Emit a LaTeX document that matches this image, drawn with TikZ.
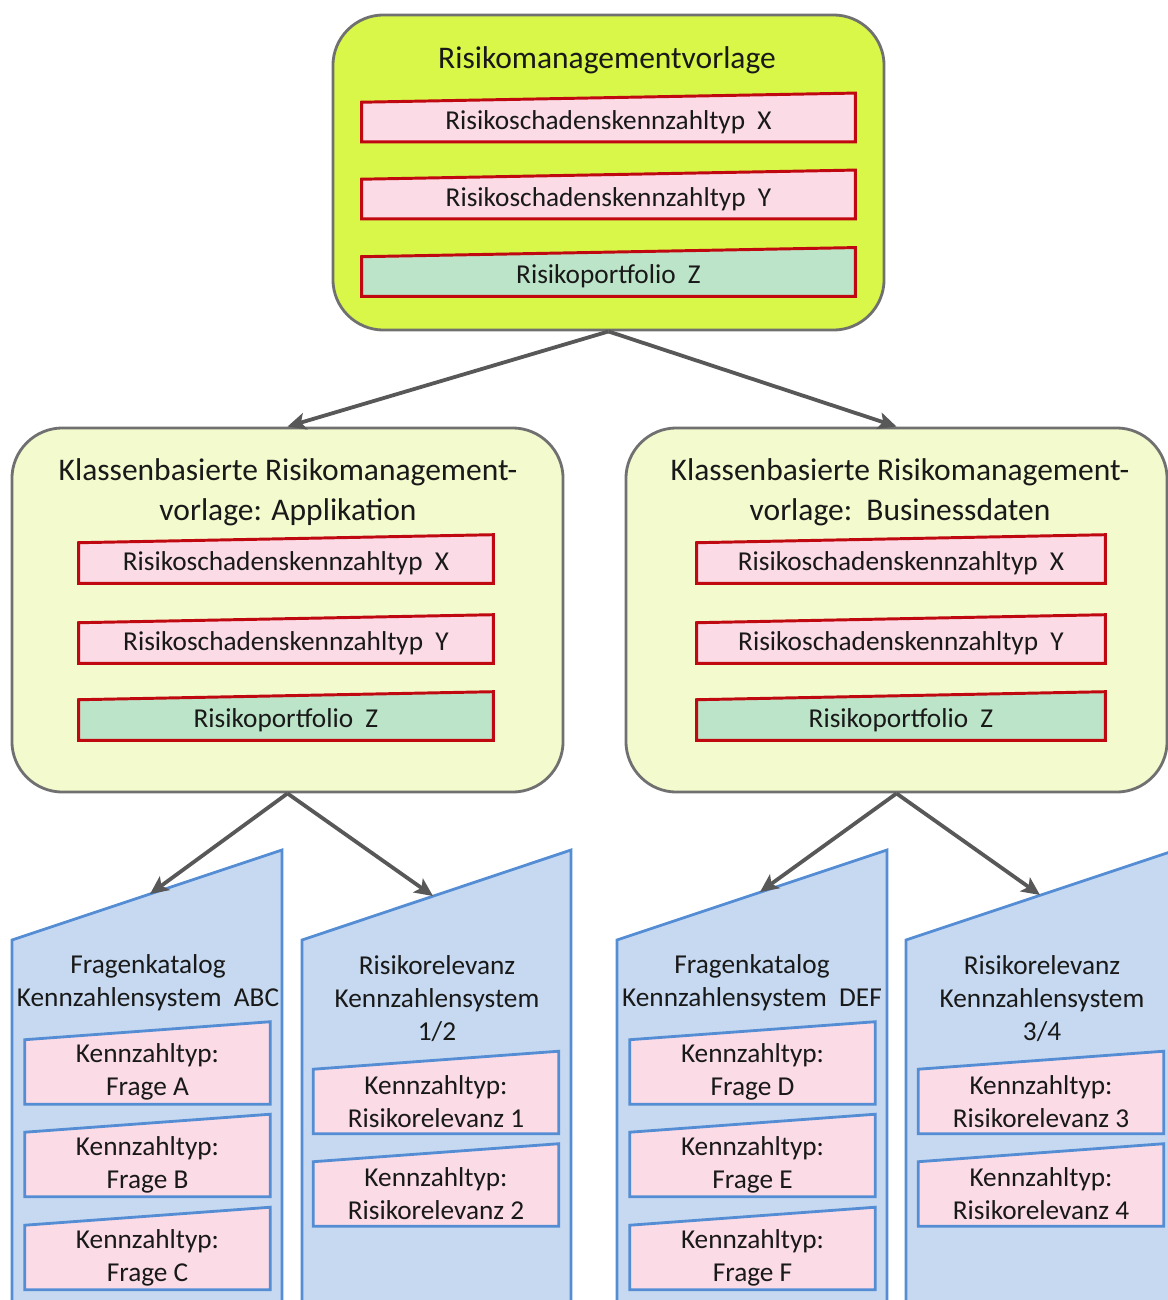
\documentclass[tikz,border=0pt]{standalone}
\usepackage{fontspec}
\setmainfont{Carlito}
\usetikzlibrary{arrows.meta, calc}
\definecolor{limegreen}{RGB}{216,247,72}
\definecolor{paleyellow}{RGB}{242,250,206}
\definecolor{boxgray}{RGB}{112,112,112}
\definecolor{itempink}{RGB}{250,219,230}
\definecolor{itemgreen}{RGB}{188,228,200}
\definecolor{itemred}{RGB}{192,8,16}
\definecolor{catblue}{RGB}{198,217,240}
\definecolor{catline}{RGB}{84,141,212}
\definecolor{arrgray}{RGB}{88,88,88}

\begin{document}
\begin{tikzpicture}[x=0.025cm, y=-0.025cm,
  every node/.style={font=\fontsize{19.4}{23.4}\selectfont, text=black!90, inner sep=0pt},
  title/.style={font=\fontsize{22.4}{28.4}\selectfont, align=center},
  tpl/.style={rectangle, rounded corners=36pt, draw=boxgray, line width=2pt, fill=#1},
  slantbox/.style n args={3}{append after command={\pgfextra{
      \filldraw[fill=#1, #2, line join=miter] (\tikzlastnode.south west) -- (\tikzlastnode.south east)
        -- ([yshift=#3]\tikzlastnode.north east) -- (\tikzlastnode.north west) -- cycle;}}},
  item/.style={slantbox={#1}{draw=itemred, line width=2.1pt}{6.5pt},
               minimum width=12.325cm, minimum height=0.975cm},
  subitem/.style={slantbox={#1}{draw=itemred, line width=2.1pt}{5.7pt},
                  minimum height=1cm},
  kz/.style={slantbox={itempink}{draw=catline, line width=2pt}{12.8pt},
             minimum width=6.125cm, minimum height=1.6cm, align=center},
  cat/.style={draw=catline, fill=catblue, line width=2pt, line join=miter},
  arr/.style={-{Stealth[length=13pt, width=12pt, inset=3pt]}, line width=2.7pt, arrgray}
]
\useasboundingbox (0,0) rectangle (1168,1300);
\clip (0,0) rectangle (1168,1300);

% Vorlage oben
\node[tpl=limegreen, minimum width=13.775cm, minimum height=7.875cm] (rmv) at (608.5,172.5) {};
\node[title] (rmvtitle) at (607,60) {Risikomanagementvorlage};
\node[item=itempink]  (rmvx) at (608.5,122)   {Risikoschadenskennzahltyp\ \ X};
\node[item=itempink]  (rmvy) at (608.5,199)   {Risikoschadenskennzahltyp\ \ Y};
\node[item=itemgreen] (rmvz) at (608.5,276.5) {Risikoportfolio\ \ Z};

% klassenbasierte Vorlagen
\node[tpl=paleyellow, minimum width=13.775cm, minimum height=9.1cm] (appl) at (287.5,610) {};
\node[title] (appltitle) at (288,492)
  {Klassenbasierte Risikomanagement-\\vorlage: Applikation};
\node[subitem=itempink,  minimum width=10.35cm] (applx) at (286,563) {Risikoschadenskennzahltyp\ \ X};
\node[subitem=itempink,  minimum width=10.35cm] (apply) at (286,643) {Risikoschadenskennzahltyp\ \ Y};
\node[subitem=itemgreen, minimum width=10.35cm] (applz) at (286,720) {Risikoportfolio\ \ Z};

\node[tpl=paleyellow, minimum width=13.525cm, minimum height=9.1cm] (bdat) at (896.5,610) {};
\node[title] (bdattitle) at (900,492)
  {Klassenbasierte Risikomanagement-\\vorlage:\ \ Businessdaten};
\node[subitem=itempink,  minimum width=10.2cm] (bdatx) at (901,563) {Risikoschadenskennzahltyp\ \ X};
\node[subitem=itempink,  minimum width=10.2cm] (bdaty) at (901,643) {Risikoschadenskennzahltyp\ \ Y};
\node[subitem=itemgreen, minimum width=10.2cm] (bdatz) at (901,720) {Risikoportfolio\ \ Z};

% Kataloge
\draw[cat] (12,940) -- (282,850) -- (282,1320) -- (12,1320) -- cycle;
\coordinate (fkabc) at (150,894);
\node[align=center] (fkabctitle) at (148,982.5) {Fragenkatalog\\Kennzahlensystem\ \ ABC};
\node[kz] (fa) at (147.5,1072)   {Kennzahltyp:\\Frage A};
\node[kz] (fb) at (147.5,1164.5) {Kennzahltyp:\\Frage B};
\node[kz] (fc) at (147.5,1257.5) {Kennzahltyp:\\Frage C};

\draw[cat] (302,940) -- (571,850) -- (571,1320) -- (302,1320) -- cycle;
\coordinate (rk12) at (433,896);
\node[align=center] (rk12title) at (437,999) {Risikorelevanz\\Kennzahlensystem\\1/2};
\node[kz] (r1) at (436,1101.5) {Kennzahltyp:\\Risikorelevanz 1};
\node[kz] (r2) at (436,1194)   {Kennzahltyp:\\Risikorelevanz 2};

\draw[cat] (617,940) -- (887,850) -- (887,1320) -- (617,1320) -- cycle;
\coordinate (fkdef) at (760,892);
\node[align=center] (fkdeftitle) at (752,982.5) {Fragenkatalog\\Kennzahlensystem\ \ DEF};
\node[kz] (fd) at (752.5,1072)   {Kennzahltyp:\\Frage D};
\node[kz] (fe) at (752.5,1164.5) {Kennzahltyp:\\Frage E};
\node[kz] (ff) at (752.5,1257.5) {Kennzahltyp:\\Frage F};

\draw[cat] (906,940) -- (1176,850) -- (1176,1320) -- (906,1320) -- cycle;
\coordinate (rk34) at (1040,895);
\node[align=center] (rk34title) at (1042,999) {Risikorelevanz\\Kennzahlensystem\\3/4};
\node[kz] (r3) at (1041,1101.5) {Kennzahltyp:\\Risikorelevanz 3};
\node[kz] (r4) at (1041,1194)   {Kennzahltyp:\\Risikorelevanz 4};

\draw[arr] (rmv.south)  -- (appl.north);
\draw[arr] (rmv.south)  -- (bdat.north);
\draw[arr] (appl.south) -- (fkabc);
\draw[arr] (appl.south) -- (rk12);
\draw[arr] (bdat.south) -- (fkdef);
\draw[arr] (bdat.south) -- (rk34);
\end{tikzpicture}
\end{document}
